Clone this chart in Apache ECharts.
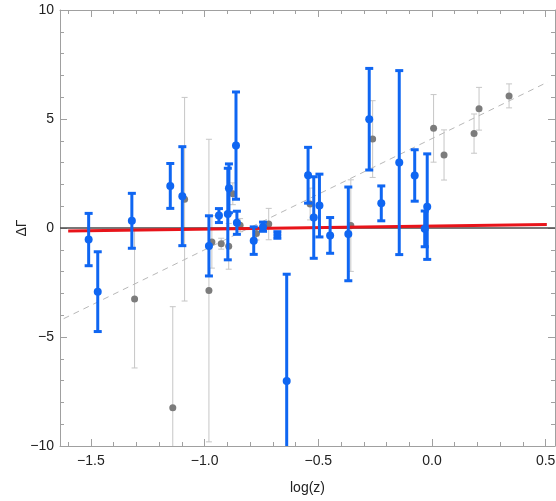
<!DOCTYPE html>
<html>
<head>
<meta charset="utf-8">
<script src="https://cdn.jsdelivr.net/npm/echarts@6/dist/echarts.min.js"></script>
<style>html,body{margin:0;padding:0;background:#fff;}#chart{width:556px;height:501px;}</style>
</head>
<body>
<div id="chart"></div>
<script>
// ---- data ----
const blueX   = [-1.51, -1.47, -1.32, -1.151, -1.098, -0.981, -0.937, -0.893, -0.898, -0.862, -0.858, -0.784, -0.743, -0.68, -0.639, -0.545, -0.52, -0.495, -0.448, -0.368, -0.276, -0.223, -0.144, -0.076, -0.021, -0.032];
const blueY   = [-0.53, -2.92, 0.33, 1.93, 1.46, -0.82, 0.57, 1.82, 0.64, 3.78, 0.24, -0.58, 0.06, -0.32, -7.02, 2.42, 0.48, 1.03, -0.34, -0.27, 4.99, 1.13, 3.0, 2.41, 0.98, -0.04];
const blueErr = [1.2, 1.83, 1.26, 1.03, 2.27, 1.38, 0.32, 1.12, 2.1, 2.46, 0.53, 0.63, 0.21, 0.15, 4.9, 1.28, 1.87, 1.44, 0.82, 2.15, 2.33, 0.8, 4.22, 1.18, 2.42, 0.82];

const grayX   = [-1.308, -1.088, -1.14, -0.981, -0.968, -0.927, -0.894, -0.876, -0.844, -0.772, -0.718, -0.536, -0.357, -0.261, 0.007, 0.053, 0.185, 0.207, 0.339];
const grayY   = [-3.26, 1.32, -8.24, -2.87, -0.64, -0.72, -0.84, 1.57, 0.13, -0.25, 0.18, 1.1, 0.11, 4.08, 4.57, 3.35, 4.33, 5.47, 6.06];
const grayErr = [3.16, 4.67, 4.63, 6.94, 1.2, 0.25, 1.05, 0.5, 0.3, 0.3, 0.72, 0.73, 2.1, 1.76, 1.55, 1.15, 0.9, 0.98, 0.55];

const dashX = [-1.62, 0.51];
const dashY = [-4.16, 6.70];
const redX  = [-1.6, 0.505];
const redY  = [-0.14, 0.16];
const zeroX = [-1.636, 0.541];
const zeroY = [0, 0];

const xRange = [-1.636, 0.541];
const yRange = [-10, 10];
const xMajor = [-1.5, -1.0, -0.5, 0.0, 0.5];
const xMinor = [-1.6, -1.4, -1.3, -1.2, -1.1, -0.9, -0.8, -0.7, -0.6, -0.4, -0.3, -0.2, -0.1, 0.1, 0.2, 0.3, 0.4];
const yMajor = [-10, -5, 0, 5, 10];
const yMinor = [-9, -8, -7, -6, -4, -3, -2, -1, 1, 2, 3, 4, 6, 7, 8, 9];

// ---- chart ----
const FRAME = '#a0a0a0';
const FONT = 'Liberation Sans, Arial, sans-serif';
const fmtX = v => (v < 0 ? '\u2212' : '') + Math.abs(v).toFixed(1);
const fmtY = v => (v < 0 ? '\u2212' : '') + Math.abs(v);

function axisX(pos, ticks, len, showLine, labels, name) {
  return {
    type: 'value', position: pos, min: xRange[0], max: xRange[1], gridIndex: 0,
    name: name || '', nameLocation: 'middle', nameGap: 35, nameMoveOverlap: false,
    nameTextStyle: {fontFamily: FONT, fontSize: 14, color: '#222'},
    axisLine: {show: showLine, onZero: false, lineStyle: {color: FRAME, width: 1}},
    axisTick: {show: true, inside: true, length: len, customValues: ticks, lineStyle: {color: FRAME, width: 1}},
    axisLabel: labels ? {show: true, customValues: ticks, formatter: fmtX, fontFamily: FONT, fontSize: 14, color: '#222', margin: 8} : {show: false},
    splitLine: {show: false}
  };
}
function axisY(pos, ticks, len, showLine, labels, name) {
  return {
    type: 'value', position: pos, min: yRange[0], max: yRange[1], gridIndex: 0,
    name: name || '', nameLocation: 'middle', nameGap: 31, nameRotate: 90, nameMoveOverlap: false,
    nameTextStyle: {fontFamily: FONT, fontSize: 14, color: '#222'},
    axisLine: {show: showLine, onZero: false, lineStyle: {color: FRAME, width: 1}},
    axisTick: {show: true, inside: true, length: len, customValues: ticks, lineStyle: {color: FRAME, width: 1}},
    axisLabel: labels ? {show: true, customValues: ticks, formatter: fmtY, fontFamily: FONT, fontSize: 14, color: '#222', margin: 6} : {show: false},
    splitLine: {show: false}
  };
}

function errRender(color, lw, capW) {
  return function (params, api) {
    const x = api.value(0), y = api.value(1), e = api.value(2);
    const t = api.coord([x, y + e]);
    const b = api.coord([x, y - e]);
    const h = capW / 2;
    const st = {stroke: color, lineWidth: lw, fill: null};
    return {
      type: 'group',
      children: [
        {type: 'line', shape: {x1: t[0], y1: t[1], x2: b[0], y2: b[1]}, style: st},
        {type: 'line', shape: {x1: t[0] - h, y1: t[1], x2: t[0] + h, y2: t[1]}, style: st},
        {type: 'line', shape: {x1: b[0] - h, y1: b[1], x2: b[0] + h, y2: b[1]}, style: st}
      ]
    };
  };
}

const BLUE = '#0f66f2';
const pairs = (xs, ys) => xs.map((x, i) => [x, ys[i]]);
const triples = (xs, ys, es) => xs.map((x, i) => [x, ys[i], es[i]]);

const option = {
  animation: false,
  backgroundColor: '#fff',
  grid: {left: 60, top: 10, width: 495, height: 436, containLabel: false, outerBoundsMode: 'none'},
  xAxis: [
    axisX('bottom', xMajor, 7, true, true, 'log(z)'),
    axisX('bottom', xMinor, 4, false, false),
    axisX('top', xMajor, 7, true, false),
    axisX('top', xMinor, 4, false, false)
  ],
  yAxis: [
    axisY('left', yMajor, 7, true, true, '\u0394\u0393'),
    axisY('left', yMinor, 4, false, false),
    axisY('right', yMajor, 7, true, false),
    axisY('right', yMinor, 4, false, false)
  ],
  series: [
    {
      type: 'custom', name: 'grayErr', clip: true, z: 1,
      renderItem: errRender('#c6c6c6', 1, 6),
      data: triples(grayX, grayY, grayErr), encode: {x: 0, y: 1}
    },
    {
      type: 'scatter', name: 'gray', z: 2, symbolSize: 7,
      itemStyle: {color: '#7c7c7c', opacity: 1},
      data: pairs(grayX, grayY)
    },
    {
      type: 'line', name: 'dash', z: 2, symbol: 'none',
      lineStyle: {color: '#b8b8b8', width: 1, type: [6, 5]},
      data: pairs(dashX, dashY)
    },
    {
      type: 'line', name: 'zero', z: 3, symbol: 'none',
      lineStyle: {color: '#4a4a4a', width: 1.5},
      data: pairs(zeroX, zeroY)
    },
    {
      type: 'line', name: 'red', z: 4, symbol: 'none',
      lineStyle: {color: '#e8141a', width: 3},
      data: pairs(redX, redY)
    },
    {
      type: 'custom', name: 'blueErr', clip: true, z: 5,
      renderItem: errRender(BLUE, 3, 8),
      data: triples(blueX, blueY, blueErr), encode: {x: 0, y: 1}
    },
    {
      type: 'scatter', name: 'blue', z: 6, symbolSize: 8,
      itemStyle: {color: BLUE, opacity: 1},
      data: pairs(blueX, blueY)
    }
  ]
};

const chart = echarts.init(document.getElementById('chart'), null, {renderer: 'canvas'});
chart.setOption(option);
</script>
</body>
</html>
